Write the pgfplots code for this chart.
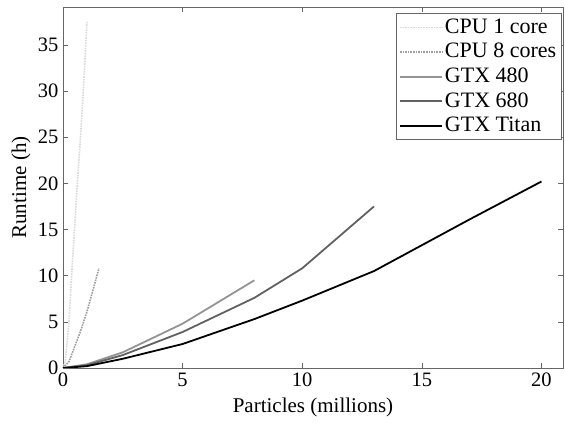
\documentclass[border=0pt]{standalone}
\usepackage{fontspec}
\setmainfont{Liberation Serif}
\usepackage{pgfplots}
\pgfplotsset{compat=1.18}
\begin{document}
\fontsize{19.5}{23}\selectfont
\begin{tikzpicture}
\begin{axis}[
  name=ax,
  scale only axis,
  width=500pt, height=361pt,
  xmin=0, xmax=20.9, ymin=0, ymax=39.1,
  xtick={0,5,10,15,20}, ytick={0,5,10,15,20,25,30,35},
  tick align=inside,
  major tick length=5pt,
  tick style={color=black!60, line width=0.6pt},
  axis line style={black!60, line width=0.8pt},
  /pgf/number format/assume math mode=true,
  tick label style={font=\fontsize{20.5}{23}\selectfont},
  label style={font=\fontsize{21}{24}\selectfont},
  xlabel={Particles (millions)},
  ylabel={Runtime (h)},
  xlabel style={yshift=2pt},
  ylabel style={yshift=-6pt},
  xticklabel style={yshift=2pt},
  yticklabel style={xshift=2pt},
  legend style={at={(0.997,0.982)}, anchor=north east, draw=black!60, line width=0.6pt,
    font=\fontsize{22}{24}\selectfont, inner sep=3pt, row sep=3pt},
  legend cell align=left,
  legend image code/.code={\draw[#1] (0pt,0pt) -- (42pt,0pt);},
]
\addplot[color=black!15, line width=1.6pt, densely dotted] coordinates {
(0,0) (0.1,0.8) (0.25,5) (0.36,10) (0.48,15) (0.6,20) (0.73,25) (0.85,30) (0.93,34) (1.0,37.5)};
\addlegendentry{CPU 1 core}
\addplot[color=black!38, line width=1.6pt, densely dotted] coordinates {
(0,0) (0.25,0.7) (0.5,2.4) (0.75,4.1) (1.0,6.1) (1.25,8.4) (1.5,10.8)};
\addlegendentry{CPU 8 cores}
\addplot[color=black!42, line width=1.8pt] coordinates {
(0,0) (1,0.4) (2.5,1.7) (5,4.8) (8,9.5)};
\addlegendentry{GTX 480}
\addplot[color=black!62, line width=1.8pt] coordinates {
(0,0) (1,0.3) (2.5,1.4) (5,3.9) (8,7.6) (10,10.8) (13,17.5)};
\addlegendentry{GTX 680}
\addplot[color=black, line width=1.8pt] coordinates {
(0,0) (1,0.2) (2.5,1.0) (5,2.6) (8,5.3) (10,7.3) (13,10.5) (17,16.1) (20,20.2)};
\addlegendentry{GTX Titan}
\end{axis}
\path ([xshift=-63pt,yshift=-54pt]ax.south west) rectangle ([xshift=2pt,yshift=7pt]ax.north east);
\end{tikzpicture}
\end{document}
